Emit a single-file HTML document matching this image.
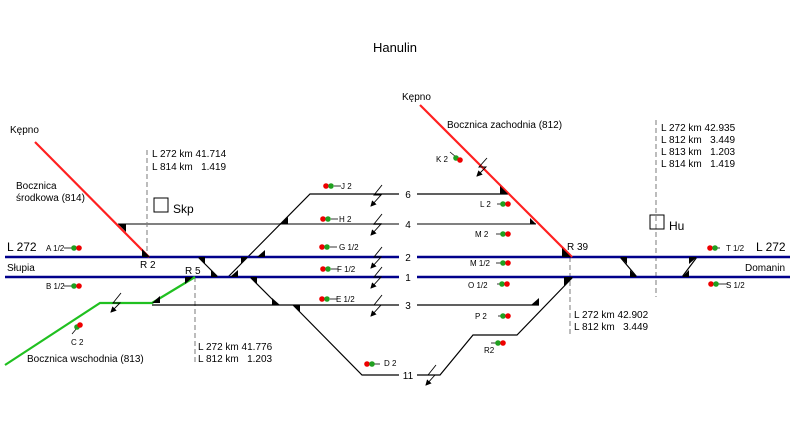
<!DOCTYPE html>
<html><head><meta charset="utf-8"><style>
body{margin:0;background:#fff}
svg{display:block}
text{font-family:"Liberation Sans",sans-serif;fill:#000;white-space:pre}
.s{font-size:8px}
.m{font-size:10px}
</style></head><body>
<svg width="790" height="426" viewBox="0 0 790 426">
<defs>
<marker id="ar" markerWidth="6" markerHeight="6" refX="5" refY="3" orient="auto" markerUnits="userSpaceOnUse">
<path d="M0,0 L6,3 L0,6 z" fill="#000"/>
</marker>
</defs>
<text x="395" y="52" text-anchor="middle" font-size="13">Hanulin</text>
<!-- dashed -->
<g stroke="#999" stroke-dasharray="5,3" stroke-width="1.3" fill="none">
<line x1="147" y1="150" x2="147" y2="257"/>
<line x1="195" y1="277" x2="195" y2="365"/>
<line x1="570" y1="257" x2="570" y2="335"/>
<line x1="656" y1="120" x2="656" y2="297"/>
</g>
<g stroke="#808080" stroke-width="2">
<line x1="118" y1="224" x2="399" y2="224"/>
<line x1="417" y1="224" x2="536" y2="224"/>
</g>
<g stroke="#000" stroke-width="1.2" fill="none">
<polyline points="228,277 310,194 399,194"/>
<line x1="417" y1="194" x2="508" y2="194"/>
<line x1="198" y1="257" x2="218" y2="277"/>
<line x1="250" y1="277" x2="278" y2="305"/>
<line x1="152" y1="305" x2="399" y2="305"/>
<line x1="417" y1="305" x2="539" y2="305"/>
<polyline points="293,305 362,375 399,375"/>
<polyline points="417,375 440,375 473,335 517,335 573,277"/>
<line x1="620" y1="257" x2="637" y2="277"/>
<line x1="697" y1="257" x2="682" y2="277"/>
</g>
<g stroke="#00008b" stroke-width="2.4">
<line x1="5" y1="257" x2="399" y2="257"/>
<line x1="417" y1="257" x2="790" y2="257"/>
<line x1="5" y1="277" x2="399" y2="277"/>
<line x1="417" y1="277" x2="790" y2="277"/>
</g>
<g stroke="#ff2020" stroke-width="2.2">
<line x1="35" y1="142" x2="149" y2="257"/>
<line x1="420" y1="105" x2="572" y2="257"/>
</g>
<polyline points="5,365 100,303 152,303 195,277" stroke="#20c020" stroke-width="2.2" fill="none"/>
<g fill="#000">
<polygon points="118,224 126,224 126,232"/>
<polygon points="142,257 150,257 142,249"/>
<polygon points="198,257 205,257 205,264"/>
<polygon points="211,270 218,277 211,277"/>
<polygon points="241,264 248,257 241,257"/>
<polygon points="230,277 238,277 238,270"/>
<polygon points="257,257 265,257 265,250"/>
<polygon points="280,224 288,224 288,217"/>
<polygon points="250,277 257,277 257,284"/>
<polygon points="272,298 280,305 272,305"/>
<polygon points="293,305 300,305 300,312"/>
<polygon points="152,303 160,303 160,296"/>
<polygon points="185,277 193,277 185,284"/>
<polygon points="500,186 500,194 508,194"/>
<polygon points="530,218 530,224 536,224"/>
<polygon points="562,248 562,257 571,257"/>
<polygon points="564,277 573,277 564,286"/>
<polygon points="531,305 539,305 539,298"/>
<polygon points="620,257 627,257 627,264"/>
<polygon points="630,270 637,277 630,277"/>
<polygon points="689,257 697,257 689,264"/>
<polygon points="682,277 689,277 689,270"/>
</g>
<g class="m" text-anchor="middle">
<text x="408" y="198">6</text><text x="408" y="228">4</text><text x="408" y="261">2</text>
<text x="408" y="281">1</text><text x="408" y="309">3</text><text x="408" y="379">11</text>
</g>
<g stroke="#000" stroke-width="0.8">
<line x1="64" y1="248" x2="72" y2="248"/><line x1="64" y1="286" x2="72" y2="286"/>
<line x1="334" y1="186" x2="341" y2="186"/><line x1="331" y1="219" x2="338" y2="219"/>
<line x1="330" y1="247" x2="337" y2="247"/><line x1="331" y1="269" x2="338" y2="269"/>
<line x1="330" y1="299" x2="337" y2="299"/><line x1="372" y1="364" x2="380" y2="364"/>
<line x1="497" y1="204" x2="503" y2="204"/><line x1="496" y1="234" x2="503" y2="234"/>
<line x1="496" y1="263" x2="503" y2="263"/><line x1="497" y1="284" x2="503" y2="284"/>
<line x1="498" y1="316" x2="503" y2="316"/><line x1="491" y1="343" x2="498" y2="343"/>
<line x1="710" y1="248" x2="720" y2="248"/><line x1="718" y1="284" x2="728" y2="284"/>
<line x1="450" y1="152" x2="456" y2="157"/><line x1="72" y1="334" x2="77" y2="328"/>
</g>
<g>
<circle cx="74" cy="248" r="2.8" fill="#20a020"/><circle cx="79" cy="248" r="2.8" fill="#e00"/>
<circle cx="74" cy="286" r="2.8" fill="#20a020"/><circle cx="79" cy="286" r="2.8" fill="#e00"/>
<circle cx="326" cy="186" r="2.8" fill="#e00"/><circle cx="331" cy="186" r="2.8" fill="#20a020"/>
<circle cx="323" cy="219" r="2.8" fill="#e00"/><circle cx="328" cy="219" r="2.8" fill="#20a020"/>
<circle cx="322" cy="247" r="2.8" fill="#e00"/><circle cx="327" cy="247" r="2.8" fill="#20a020"/>
<circle cx="323" cy="269" r="2.8" fill="#e00"/><circle cx="328" cy="269" r="2.8" fill="#20a020"/>
<circle cx="322" cy="299" r="2.8" fill="#e00"/><circle cx="327" cy="299" r="2.8" fill="#20a020"/>
<circle cx="367" cy="364" r="2.8" fill="#e00"/><circle cx="372" cy="364" r="2.8" fill="#20a020"/>
<circle cx="503" cy="204" r="2.8" fill="#20a020"/><circle cx="508" cy="204" r="2.8" fill="#e00"/>
<circle cx="503" cy="234" r="2.8" fill="#20a020"/><circle cx="508" cy="234" r="2.8" fill="#e00"/>
<circle cx="503" cy="263" r="2.8" fill="#20a020"/><circle cx="508" cy="263" r="2.8" fill="#e00"/>
<circle cx="502" cy="284" r="2.8" fill="#20a020"/><circle cx="507" cy="284" r="2.8" fill="#e00"/>
<circle cx="503" cy="316" r="2.8" fill="#20a020"/><circle cx="508" cy="316" r="2.8" fill="#e00"/>
<circle cx="498" cy="343" r="2.8" fill="#20a020"/><circle cx="503" cy="343" r="2.8" fill="#e00"/>
<circle cx="710" cy="248" r="2.8" fill="#e00"/><circle cx="715" cy="248" r="2.8" fill="#20a020"/>
<circle cx="711" cy="284" r="2.8" fill="#e00"/><circle cx="716" cy="284" r="2.8" fill="#20a020"/>
<circle cx="456" cy="158" r="2.8" fill="#20a020"/><circle cx="460" cy="160" r="2.8" fill="#e00"/>
<circle cx="77" cy="327" r="2.8" fill="#20a020"/><circle cx="80" cy="325" r="2.8" fill="#e00"/>
</g>
<!-- lightning with arrow -->
<g stroke="#000" stroke-width="0.9" fill="none" marker-end="url(#ar)">
<path d="M382,185 L374,195 L381,195 L371,206"/>
<path d="M382,214 L374,224 L381,224 L371,235"/>
<path d="M382,247 L374,257 L381,257 L371,268"/>
<path d="M382,267 L374,277 L381,277 L371,288"/>
<path d="M382,295 L374,305 L381,305 L371,316"/>
<path d="M436,365 L428,375 L435,375 L426,385"/>
<path d="M121,293 L113,303 L120,303 L111,312"/>
<path d="M487,158 L479,167 L486,167 L477,176"/>
</g>
<g class="s">
<text x="46" y="251">A 1/2</text><text x="46" y="289">B 1/2</text><text x="71" y="345">C 2</text>
<text x="341" y="189">J 2</text><text x="339" y="222">H 2</text><text x="339" y="250">G 1/2</text>
<text x="337" y="272">F 1/2</text><text x="336" y="302">E 1/2</text><text x="384" y="366">D 2</text>
<text x="480" y="207">L 2</text><text x="475" y="237">M 2</text><text x="470" y="266">M 1/2</text>
<text x="468" y="288">O 1/2</text><text x="475" y="319">P 2</text><text x="484" y="353">R2</text>
<text x="436" y="162">K 2</text><text x="726" y="251">T 1/2</text><text x="726" y="288">S 1/2</text>
</g>
<g class="m">
<text x="10" y="133">Kępno</text><text x="402" y="100">Kępno</text>
<text x="16" y="189">Bocznica</text><text x="16" y="201">środkowa (814)</text>
<text x="447" y="128">Bocznica zachodnia (812)</text>
<text x="27" y="362">Bocznica wschodnia (813)</text>
<text x="7" y="271">Słupia</text><text x="745" y="271">Domanin</text>
<text x="140" y="268">R 2</text><text x="185" y="274">R 5</text><text x="567" y="250">R 39</text>
<text x="152" y="157">L 272 km 41.714</text><text x="152" y="170">L 814 km   1.419</text>
<text x="198" y="350">L 272 km 41.776</text><text x="198" y="362">L 812 km   1.203</text>
<text x="574" y="318">L 272 km 42.902</text><text x="574" y="330">L 812 km   3.449</text>
<text x="661" y="131">L 272 km 42.935</text><text x="661" y="143">L 812 km   3.449</text>
<text x="661" y="155">L 813 km   1.203</text><text x="661" y="167">L 814 km   1.419</text>
</g>
<text x="7" y="251" font-size="12">L 272</text><text x="756" y="251" font-size="12">L 272</text>
<rect x="154" y="198" width="14" height="14" fill="none" stroke="#000"/>
<text x="173" y="213" font-size="12">Skp</text>
<rect x="650" y="215" width="14" height="14" fill="none" stroke="#000"/>
<text x="669" y="230" font-size="12">Hu</text>
</svg>
</body></html>
